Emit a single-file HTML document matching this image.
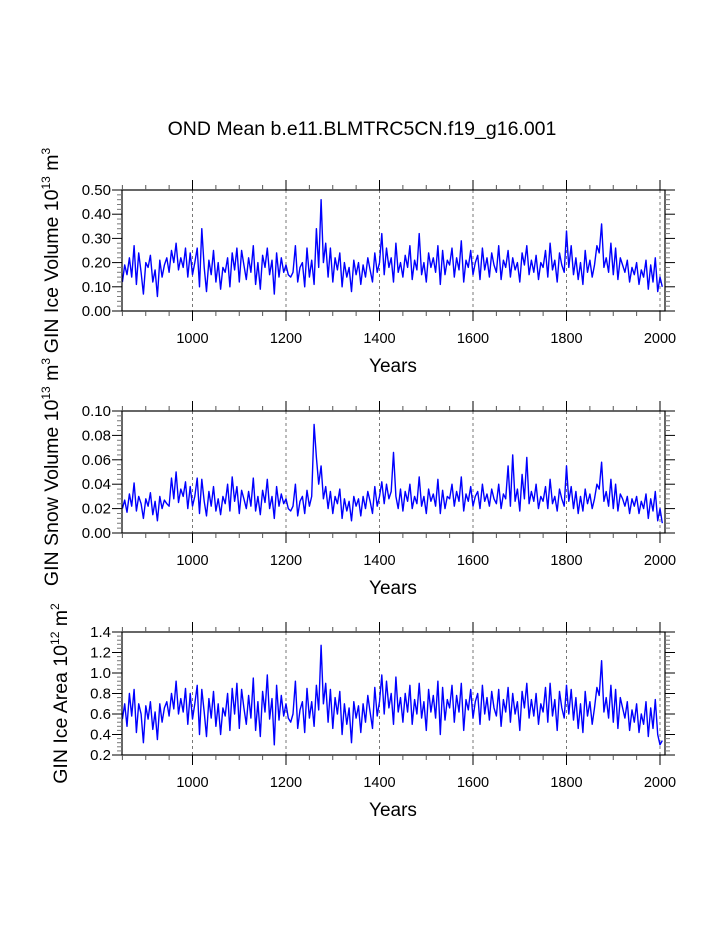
<!DOCTYPE html>
<html><head><meta charset="utf-8"><style>
html,body{margin:0;padding:0;background:#fff;}
svg{display:block;font-family:"Liberation Sans",Arial,sans-serif;}
</style></head><body>
<svg id="chart" width="723" height="935" viewBox="0 0 723 935" xmlns="http://www.w3.org/2000/svg">
<text x="362" y="135" font-size="19.5" text-anchor="middle">OND Mean b.e11.BLMTRC5CN.f19_g16.001</text>
</svg>
<script>
const startYear = 850;
const stepYears = 5;
const xTickLabels = [1000, 1200, 1400, 1600, 1800, 2000];
const iceVolume = [12,19,15,22,14,27,11,24,16,7,20,18,23,12,17,6,21,14,19,22,
16,25,20,28,17,22,18,26,14,24,15,20,26,10,34,18,8,21,15,25,
12,20,9,18,16,22,10,24,17,26,12,25,19,13,22,16,27,11,20,9,
23,18,26,15,21,7,24,14,22,16,19,15,14,16,27,12,18,20,10,26,
14,21,11,34,18,46,20,28,14,26,12,22,17,24,10,20,14,18,8,21,
15,20,11,19,14,22,17,12,24,16,20,32,15,26,18,22,12,28,16,20,
14,23,18,27,13,21,17,32,15,20,12,24,18,22,16,27,11,25,15,21,
19,26,14,22,17,29,12,21,18,25,15,20,23,13,26,17,22,14,24,19,
16,27,13,21,18,25,14,22,17,20,12,24,19,27,15,21,16,23,13,20,
18,25,14,28,17,21,12,24,19,16,33,18,27,15,22,13,20,11,25,16,
21,14,19,27,24,36,18,22,16,28,15,26,13,22,19,16,21,12,18,15,
20,11,17,14,21,9,19,12,22,8,14,10];
const snowVolume = [20,27,17,32,22,41,18,30,24,12,28,22,33,15,26,10,30,20,27,24,
22,45,28,50,25,36,30,42,20,38,22,30,45,16,44,26,14,34,22,38,
18,28,15,30,24,40,18,46,26,38,16,35,28,20,34,22,45,18,30,15,
35,25,44,20,30,12,38,22,32,24,28,20,18,22,40,14,26,30,16,35,
22,30,89,62,40,55,28,38,20,34,16,30,24,36,12,28,18,26,10,30,
22,28,14,30,20,34,26,16,38,22,30,42,24,40,28,34,66,30,20,36,
18,34,26,40,20,30,24,46,22,30,16,36,26,32,22,44,16,35,20,30,
28,40,22,34,26,46,18,32,26,38,22,30,34,20,40,26,32,22,36,28,
24,40,20,32,28,55,22,64,26,36,18,48,28,62,24,34,26,40,20,30,
26,38,20,44,24,30,18,36,28,22,55,26,38,20,34,16,30,18,36,24,
32,20,28,40,36,58,26,34,22,44,20,40,18,32,28,22,30,16,28,22,
30,16,26,20,32,12,28,18,34,10,20,8];
const iceArea = [55,70,48,80,58,84,42,70,60,32,68,55,72,45,62,35,70,52,66,72,
58,80,65,92,60,75,62,85,50,80,55,70,88,40,84,62,38,75,56,82,
48,70,40,66,58,80,44,85,60,90,46,84,66,50,78,56,95,44,72,38,
82,62,98,55,75,30,88,54,78,58,70,56,52,60,92,46,64,72,42,85,
56,72,48,88,64,127,70,90,52,84,46,76,60,82,40,70,50,66,32,72,
56,68,42,70,52,78,62,46,86,58,72,98,60,92,66,80,50,96,62,76,
52,80,62,88,50,74,60,90,56,72,44,84,62,78,56,92,40,86,54,74,
66,88,52,78,62,90,44,74,64,84,56,72,80,50,88,60,76,54,82,66,
58,84,48,74,62,86,52,80,60,72,44,82,66,90,56,74,58,80,50,70,
62,86,52,90,58,74,44,82,66,56,88,60,84,54,76,46,70,42,82,58,
72,50,66,86,78,112,62,76,56,88,52,84,46,76,66,56,72,44,64,52,
70,42,60,50,72,38,66,46,74,40,30,34];
const iceVolumeTicks = ["0.00","0.10","0.20","0.30","0.40","0.50"];
const snowVolumeTicks = ["0.00","0.02","0.04","0.06","0.08","0.10"];
const iceAreaTicks = ["0.2","0.4","0.6","0.8","1.0","1.2","1.4"];

const NS = "http://www.w3.org/2000/svg";
const svg = document.getElementById("chart");
const X0 = 122, X1 = 665;
function xScale(yr){ return 192.5 + (yr - 1000) * 0.4675; }
function mk(tag, attrs, parent){ const e = document.createElementNS(NS, tag); for (const k in attrs) e.setAttribute(k, attrs[k]); (parent||svg).appendChild(e); return e; }

function panel(cfg){
  const g = mk("g", {});
  
  
  const top = cfg.top, bot = cfg.bot;
  const y = v => bot - (v - cfg.ymin) / (cfg.ymax - cfg.ymin) * (bot - top);
  xTickLabels.forEach(yr => {
    const l = mk("line", {x1:xScale(yr), x2:xScale(yr), y1:top, y2:bot, stroke:"#777", "stroke-width":1, "stroke-dasharray":"3,3"}, g);
    
    
  });
  const pts = cfg.data.map((v,i) => xScale(startYear + i*stepYears).toFixed(1) + "," + y(v*cfg.unit).toFixed(1)).join(" ");
  const pl = mk("polyline", {points:pts, fill:"none", stroke:"#0000ff", "stroke-width":1.4, "stroke-linejoin":"round"}, g);
  
  
  const fr = mk("rect", {x:X0, y:top, width:X1-X0, height:bot-top, fill:"none", stroke:"#000", "stroke-width":1.2}, g);
  
  
  for (let yr = 850; yr <= 2010; yr += 50){
    const x = xScale(yr); if (x < X0-0.5 || x > X1+0.5) continue;
    const major = yr % 200 === 0; const L = major ? 10 : 5;
    const c = major ? "#000" : "#555";
    mk("line", {x1:x, x2:x, y1:top, y2:top-L, stroke:c, "stroke-width":1}, g);
    mk("line", {x1:x, x2:x, y1:bot, y2:bot+L, stroke:c, "stroke-width":1}, g);
  }
  xTickLabels.forEach(yr => {
    const t = mk("text", {x:xScale(yr), y:bot+32, "font-size":14.5, "text-anchor":"middle"}, g);
    
    
    t.textContent = yr;
  });
  const xt = mk("text", {x:393, y:bot+61, "font-size":19, "text-anchor":"middle"}, g);
  
  
  xt.textContent = "Years";
  const n = cfg.ticks.length - 1;
  for (let i = 0; i <= n*5; i++){
    const v = cfg.ymin + (cfg.ymax - cfg.ymin) * i / (n*5);
    const yy = y(v); const major = i % 5 === 0; const L = major ? 10 : 5;
    const c = major ? "#000" : "#777";
    mk("line", {x1:X0, x2:X0-L, y1:yy, y2:yy, stroke:c, "stroke-width":1}, g);
    mk("line", {x1:X1, x2:X1+L, y1:yy, y2:yy, stroke:c, "stroke-width":1}, g);
  }
  cfg.ticks.forEach((lab,i) => {
    const t = mk("text", {x:X0-11, y:y(cfg.ymin + (cfg.ymax-cfg.ymin)*i/n)+5, "font-size":15, "text-anchor":"end"}, g);
    
    
    t.textContent = lab;
  });
  const cy = (top+bot)/2;
  const yt = mk("text", {x:0, y:0, "font-size":19.5, "text-anchor":"middle", transform:"translate(" + cfg.titleX + "," + cy + ") rotate(-90)"}, g);
  
  
  yt.innerHTML = cfg.title;
}
panel({name:"ice-volume-panel", top:190, bot:311, ymin:0, ymax:0.5, unit:0.01, data:iceVolume, ticks:iceVolumeTicks, titleX:58,
  title:'GIN Ice Volume 10<tspan font-size="12" dy="-8">13</tspan><tspan dy="8"> m</tspan><tspan font-size="12" dy="-8">3</tspan>'});
panel({name:"snow-volume-panel", top:411, bot:533, ymin:0, ymax:0.1, unit:0.001, data:snowVolume, ticks:snowVolumeTicks, titleX:58,
  title:'GIN Snow Volume 10<tspan font-size="12" dy="-8">13</tspan><tspan dy="8"> m</tspan><tspan font-size="12" dy="-8">3</tspan>'});
panel({name:"ice-area-panel", top:632, bot:755, ymin:0.2, ymax:1.4, unit:0.01, data:iceArea, ticks:iceAreaTicks, titleX:67,
  title:'GIN Ice Area 10<tspan font-size="12" dy="-8">12</tspan><tspan dy="8"> m</tspan><tspan font-size="12" dy="-8">2</tspan>'});
</script>
</body></html>
